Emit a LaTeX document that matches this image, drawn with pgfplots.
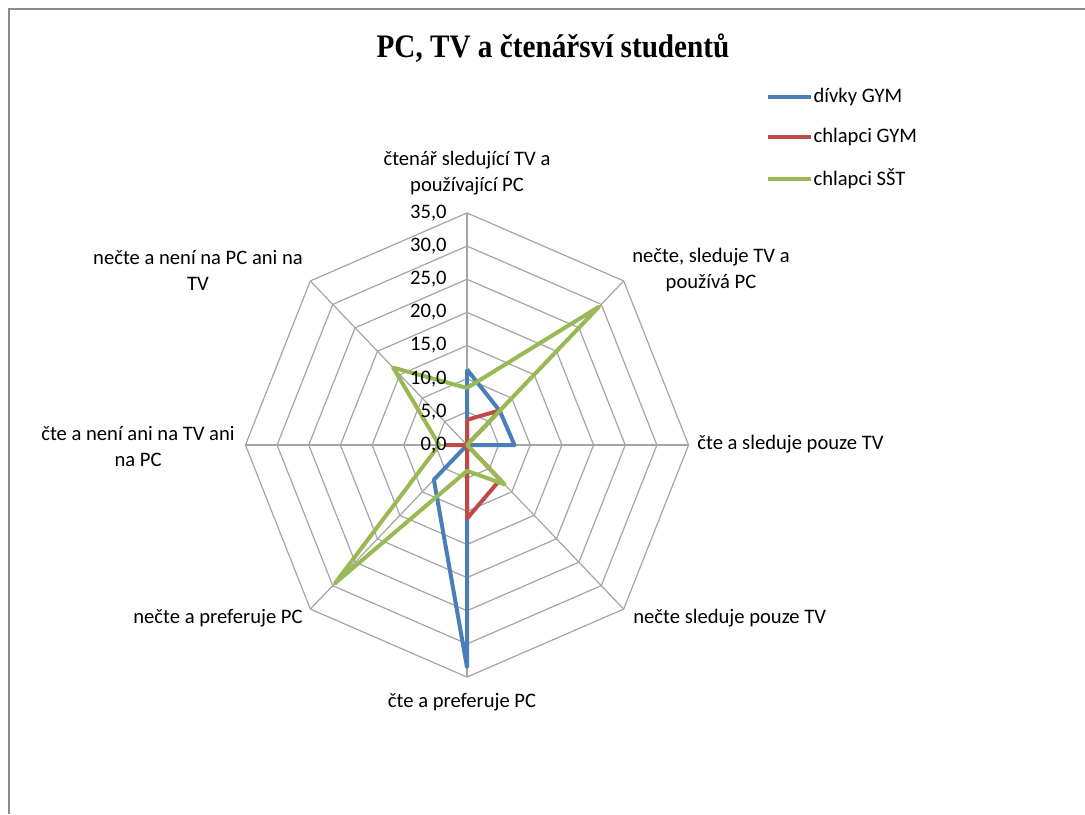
\documentclass[border=0pt]{standalone}
\usepackage{fontspec}
\setmainfont{Carlito}
\newfontfamily\titlefont{Liberation Serif}
\usepackage{graphicx}
\usepackage{pgfplots}
\pgfplotsset{compat=1.18}
\definecolor{cblue}{RGB}{74,126,187}
\definecolor{cred}{RGB}{190,75,72}
\definecolor{cgreen}{RGB}{152,185,84}
\definecolor{cgrid}{RGB}{165,165,165}
\definecolor{cframe}{RGB}{140,140,140}

\begin{document}
\begin{tikzpicture}[x=0.5pt,y=-0.5pt]
\useasboundingbox (0,0) rectangle (1085,814);
\fill[white] (0,0) rectangle (1085,814);
\draw[cframe, line width=1pt] (9,814) -- (9,9) -- (1085,9);
\node[anchor=base, inner sep=0pt] at (553,57) {\titlefont\bfseries\fontsize{16.4}{20}\selectfont\scalebox{0.89}[1]{PC, TV a čtenářsví studentů}};

\begin{axis}[
  at={(233.5pt,-222.5pt)}, anchor=origin,
  x=3.165pt, y=3.315pt,
  xmin=-35, xmax=35, ymin=-35, ymax=35,
  hide axis, clip=false,
  legend style={at={(axis description cs:1.173,1.272)}, anchor=north west,
    draw=none, fill=none, inner sep=0pt,
    font=\fontsize{10.3}{12}\selectfont, row sep=10.5pt, nodes={inner sep=0.5pt}},
  legend cell align=left,
  legend image code/.code={\draw[#1] (0pt,0pt) -- (21.5pt,0pt);},
]
\pgfplotsinvokeforeach{5,10,15,20,25,30,35}{
  \addplot[cgrid, line width=0.6pt, data cs=polar, forget plot]
    coordinates {(90,#1) (45,#1) (0,#1) (-45,#1) (-90,#1) (-135,#1) (180,#1) (135,#1) (90,#1)};
}
\pgfplotsinvokeforeach{90,45,0,-45,-90,-135,180,135}{
  \addplot[cgrid, line width=0.6pt, data cs=polar, forget plot]
    coordinates {(#1,0) (#1,35)};
}
\addplot[cblue, line width=2pt, data cs=polar, line join=round]
  coordinates {(90,11.4) (45,7.3) (0,7.5) (-45,0) (-90,33.5) (-135,7.4) (180,0) (135,0) (90,11.4)};
\addlegendentry{dívky GYM}
\addplot[cred, line width=2pt, data cs=polar, line join=round]
  coordinates {(90,3.8) (45,7.4) (0,0) (-45,7.4) (-90,11.1) (-135,0) (180,3.2) (135,0) (90,3.8)};
\addlegendentry{chlapci GYM}
\addplot[cgreen, line width=2pt, data cs=polar, line join=round]
  coordinates {(90,8.6) (45,29.5) (0,0) (-45,8.4) (-90,3.9) (-135,29.5) (180,4.4) (135,16.5) (90,8.6)};
\addlegendentry{chlapci SŠT}
\end{axis}

\begin{scope}[every node/.style={font=\fontsize{10.3}{13}\selectfont, inner sep=0pt, align=center}]
\node[anchor=east] at (447,445) {0,0};
\node[anchor=east] at (447,411.9) {5,0};
\node[anchor=east] at (447,378.7) {10,0};
\node[anchor=east] at (447,345.6) {15,0};
\node[anchor=east] at (447,312.4) {20,0};
\node[anchor=east] at (447,279.3) {25,0};
\node[anchor=east] at (447,246.1) {30,0};
\node[anchor=east] at (447,213) {35,0};
\node at (467,173) {čtenář sledující TV a\\používající PC};
\node at (711,270) {nečte, sleduje TV a\\používá PC};
\node[anchor=west] at (697,444) {čte a sleduje pouze TV};
\node[anchor=west] at (633,618) {nečte sleduje pouze TV};
\node at (462,702) {čte a preferuje PC};
\node[anchor=east] at (303,618) {nečte a preferuje PC};
\node at (138,446) {čte a není ani na TV ani\\na PC};
\node at (198,270) {nečte a není na PC ani na\\TV};
\end{scope}
\end{tikzpicture}
\end{document}
